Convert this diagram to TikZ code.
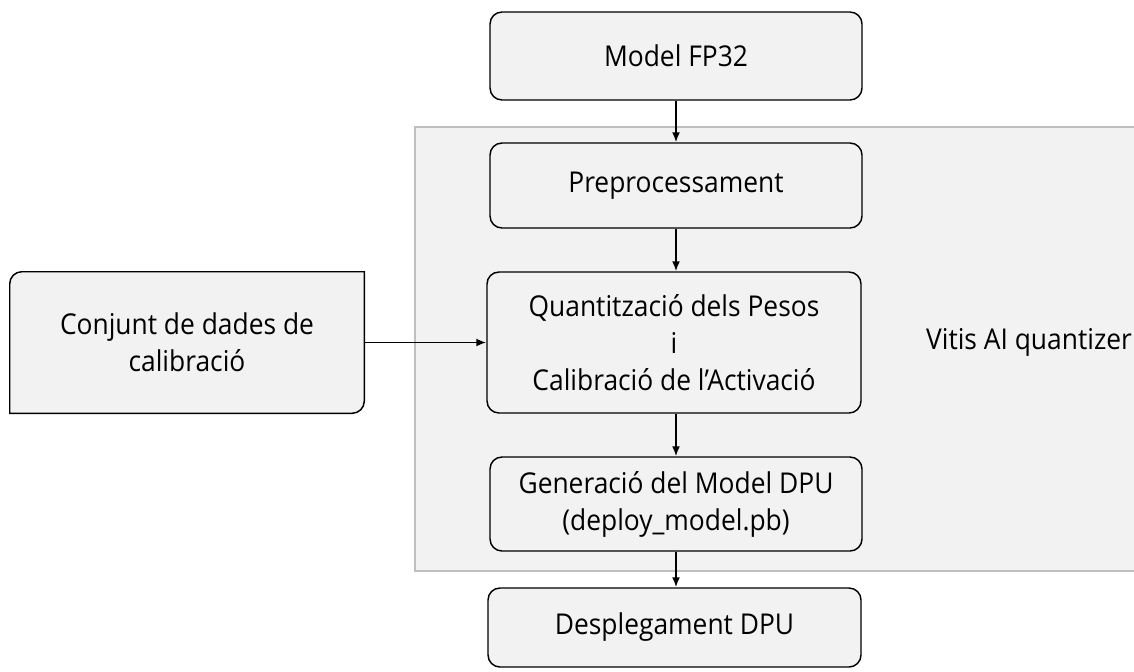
\documentclass[tikz,border=0pt]{standalone}
\usepackage{fontspec}
\setmainfont{Open Sans}[FakeStretch=0.92]
\usetikzlibrary{arrows.meta,calc}
\definecolor{boxfill}{HTML}{F2F2F2}
\definecolor{panelline}{HTML}{BFBFBF}
\begin{document}
\begin{tikzpicture}[x=0.75pt,y=-0.75pt,
  txt/.style={font=\fontsize{21.5}{27.75}\selectfont},
  stepbox/.style={txt,draw=black,line width=1.1pt,fill=boxfill,rounded corners=9pt,
    align=center,inner sep=0pt},
  flow/.style={line width=1.3pt,-{Latex[length=7.5pt,width=6pt]}}]
\useasboundingbox (0,0) rectangle (1134,671);
\fill[white] (0,0) rectangle (1134,671);
% quantizer panel
\draw[panelline,fill=boxfill,line width=1pt] (415,127) rectangle (1140,571);
\node[txt] (vitis) at (1029,342) {Vitis AI quantizer};
% flow boxes
\node[stepbox,minimum width=279pt,minimum height=66pt] (fp32) at (676,56) {Model FP32};
\node[stepbox,minimum width=279pt,minimum height=63.75pt] (pre) at (676,185.5) {Preprocessament};
\node[stepbox,minimum width=280.5pt,minimum height=105.75pt] (quant) at (674,342.5)
  {Quantització dels Pesos\\i\\Calibració de l’Activació};
\node[stepbox,minimum width=279pt,minimum height=70.5pt] (gen) at (676,504)
  {Generació del Model DPU\\(deploy\_model.pb)};
\node[stepbox,minimum width=279.75pt,minimum height=59.25pt] (dep) at (674.5,627.5) {Desplegament DPU};
% calibration data box: rounded top-left and bottom-right corners only
\node[inner sep=0pt,minimum width=265.5pt,minimum height=105.75pt] (calib) at (187,342.5) {};
\draw[draw=black,line width=1.1pt,fill=boxfill]
  ([yshift=-9pt]calib.north west) arc[start angle=180,end angle=90,radius=9pt]
  -- (calib.north east) -- ([yshift=9pt]calib.south east)
  arc[start angle=0,end angle=-90,radius=9pt] -- (calib.south west) -- cycle;
\node[txt,align=center] (calibtext) at (calib.center)
  {Conjunt de dades de\\calibració};
% connectors
\draw[flow] (fp32.south) -- (pre.north);
\draw[flow] (pre.south) -- (quant.north -| pre.south);
\draw[flow] (quant.south -| pre.south) -- (gen.north);
\draw[flow] (gen.south) -- (dep.north -| gen.south);
\draw[flow] (calib.east) -- (quant.west);
\end{tikzpicture}
\end{document}
